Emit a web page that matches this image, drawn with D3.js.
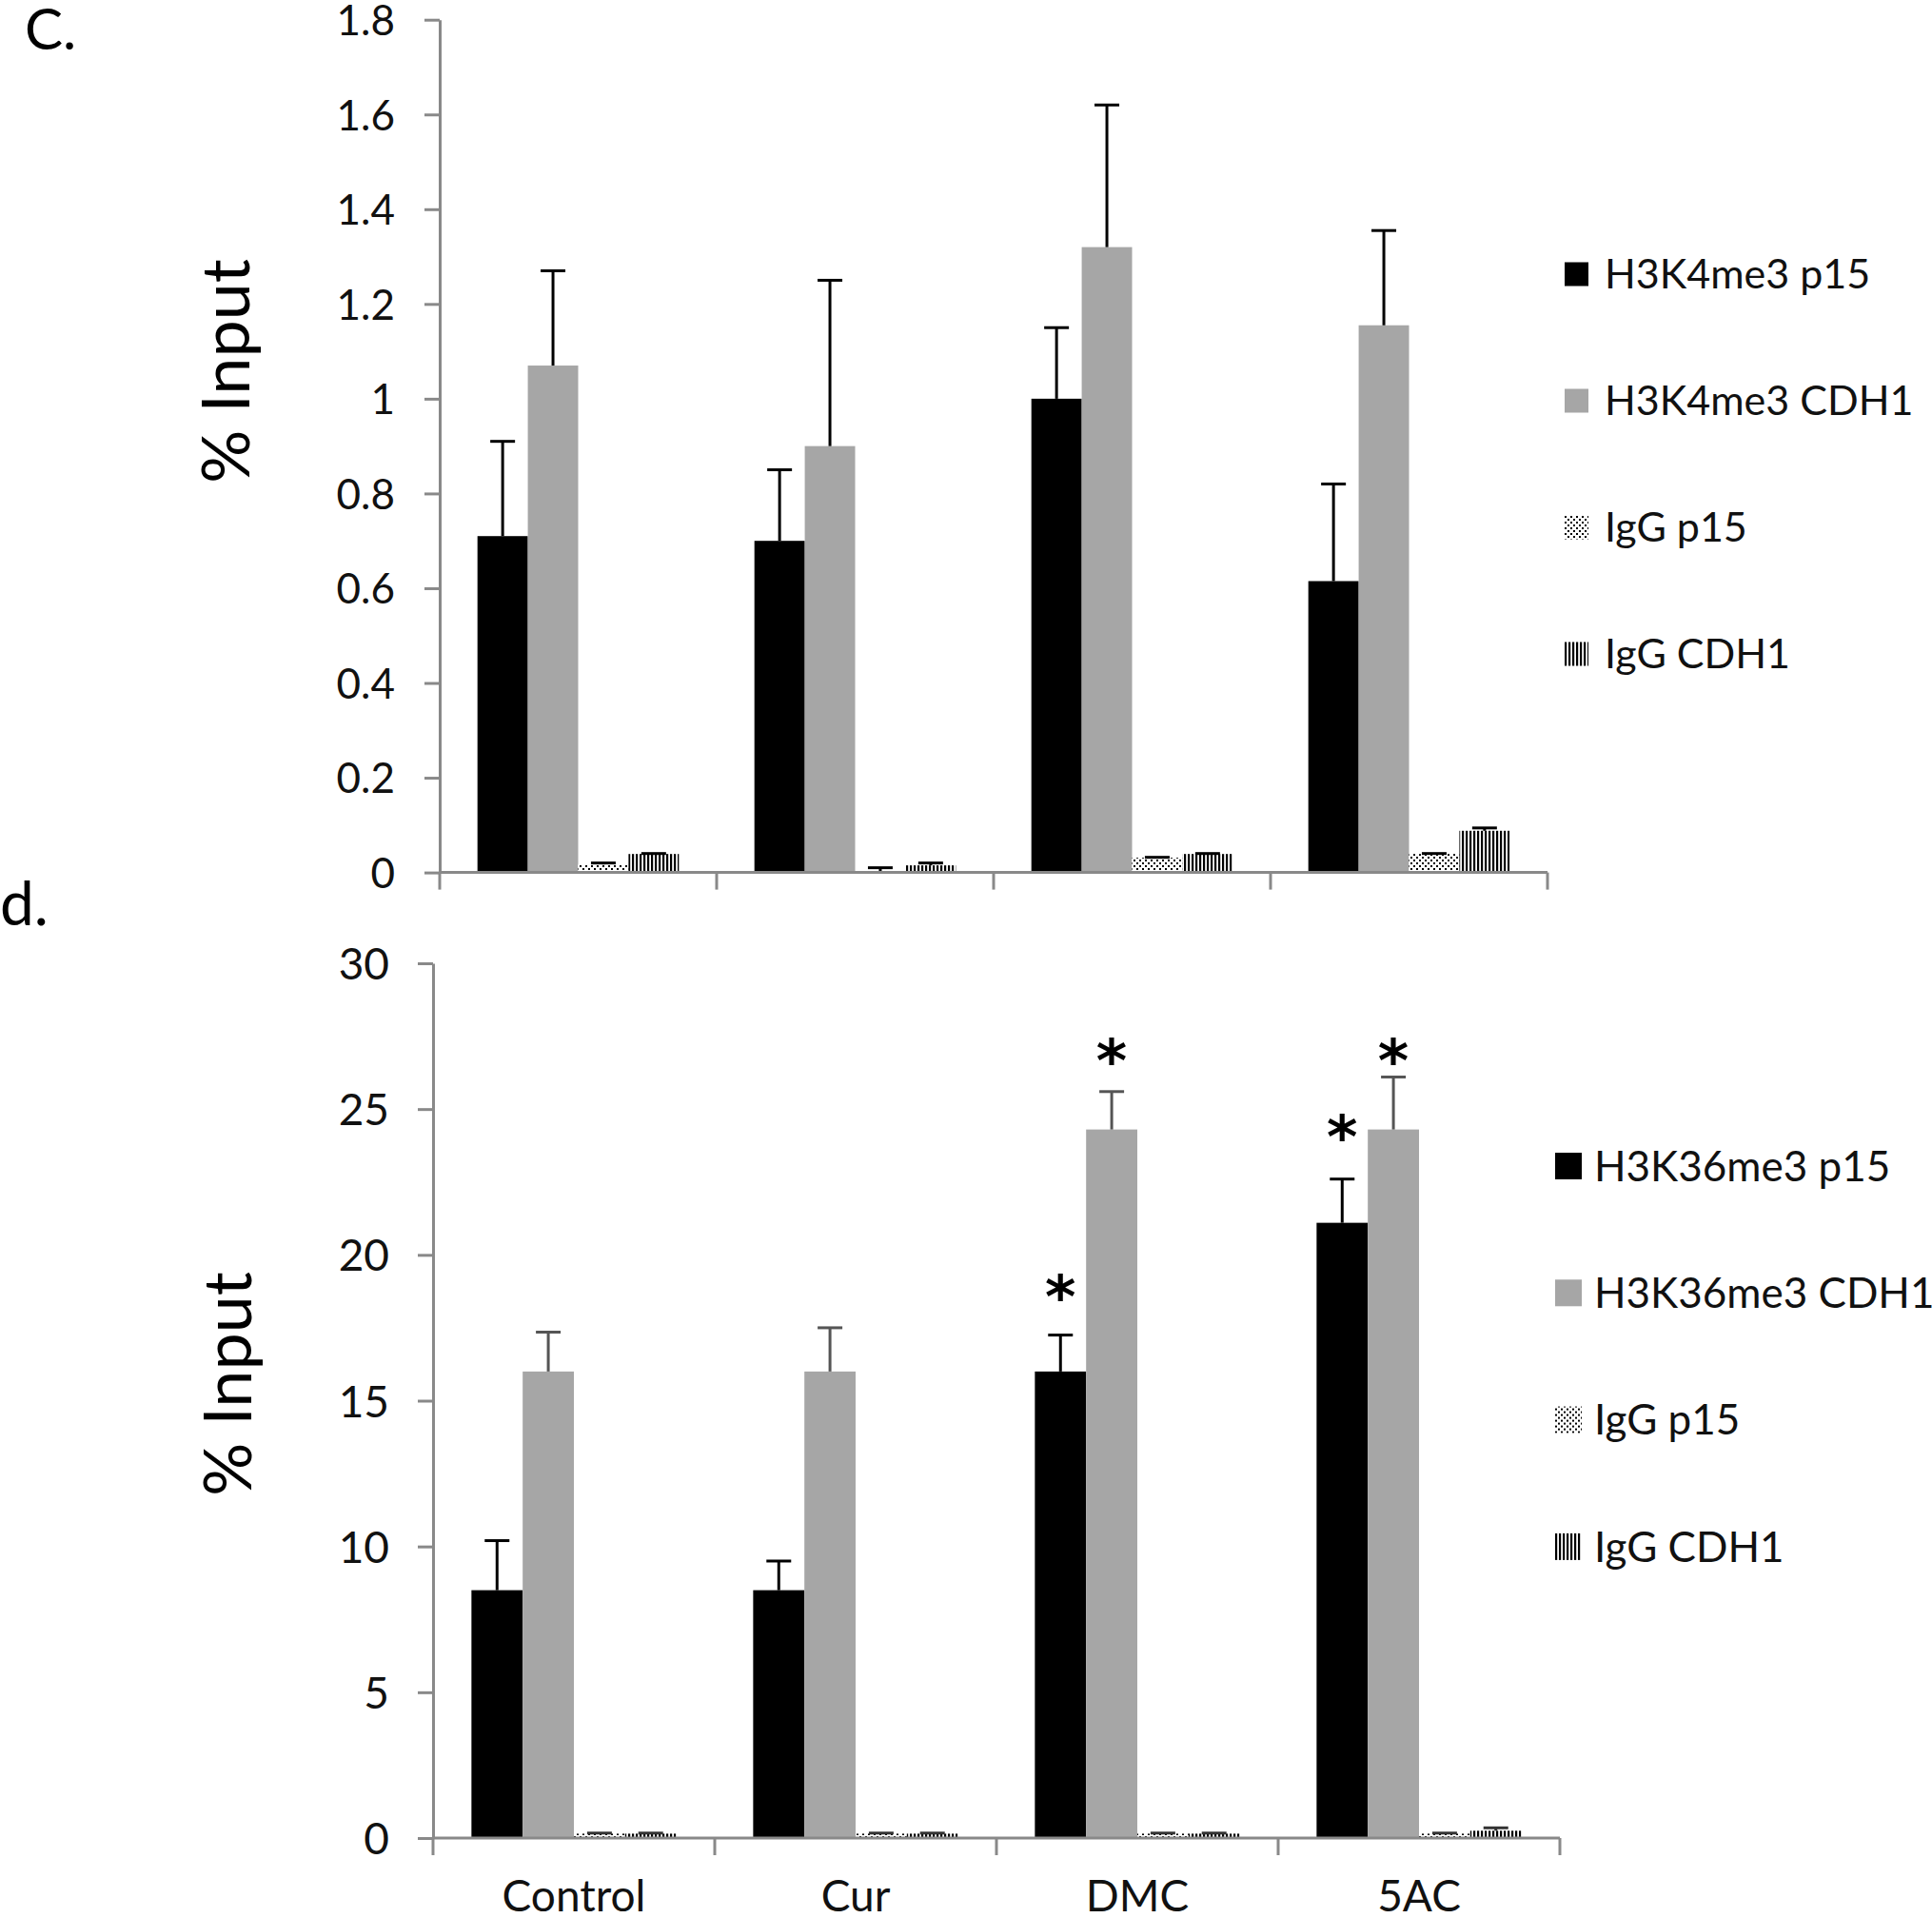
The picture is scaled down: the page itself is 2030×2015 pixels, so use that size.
<!DOCTYPE html>
<html><head><meta charset="utf-8">
<script src="https://cdn.jsdelivr.net/npm/d3@7"></script>
<style>body{margin:0;background:#fff}svg{display:block}</style>
</head><body><svg id="c" width="2030" height="2015"></svg>
<script>
// ---------- DATA ----------
const categories = ["Control", "Cur", "DMC", "5AC"];

// Panel c (H3K4me3)
const seriesC = ["H3K4me3 p15", "H3K4me3 CDH1", "IgG p15", "IgG CDH1"];
const c_h3k4_p15      = [0.71, 0.70, 1.00, 0.615];
const c_h3k4_p15_err  = [0.20, 0.15, 0.15, 0.205];
const c_h3k4_cdh1     = [1.07, 0.90, 1.32, 1.155];
const c_h3k4_cdh1_err = [0.20, 0.35, 0.30, 0.20];
const c_igg_p15       = [0.017, 0.002, 0.031, 0.039];
const c_igg_p15_err   = [0.003, 0.008, 0.001, 0.001];
const c_igg_cdh1      = [0.039, 0.015, 0.039, 0.088];
const c_igg_cdh1_err  = [0.001, 0.005, 0.001, 0.006];
const cTickValues = [0, 0.2, 0.4, 0.6, 0.8, 1, 1.2, 1.4, 1.6, 1.8];
const cTickLabels = ["0", "0.2", "0.4", "0.6", "0.8", "1", "1.2", "1.4", "1.6", "1.8"];

// Panel d (H3K36me3)
const seriesD = ["H3K36me3 p15", "H3K36me3 CDH1", "IgG p15", "IgG CDH1"];
const d_h3k36_p15      = [8.5, 8.5, 16.0, 21.1];
const d_h3k36_p15_err  = [1.7, 1.0, 1.25, 1.5];
const d_h3k36_cdh1     = [16.0, 16.0, 24.3, 24.3];
const d_h3k36_cdh1_err = [1.35, 1.5, 1.3, 1.8];
const d_igg_p15        = [0.15, 0.15, 0.15, 0.15];
const d_igg_p15_err    = [0.02, 0.02, 0.02, 0.02];
const d_igg_cdh1       = [0.15, 0.15, 0.15, 0.25];
const d_igg_cdh1_err   = [0.02, 0.02, 0.02, 0.1];
const dTickValues = [0, 5, 10, 15, 20, 25, 30];
const dTickLabels = ["0", "5", "10", "15", "20", "25", "30"];
// significance markers: category, series index, level (data units)
const dStarCats   = ["DMC", "DMC", "5AC", "5AC"];
const dStarSeries = [0, 1, 0, 1];
const dStarLevels = [19.1, 27.2, 24.6, 27.2];

// ---------- DRAW ----------
const svg = d3.select("#c");
const FONT = "Lato, 'Open Sans', sans-serif";
const defs = svg.append("defs");
const dots = defs.append("pattern").attr("id", "pDots").attr("patternUnits", "userSpaceOnUse")
  .attr("width", 6).attr("height", 6);
dots.append("rect").attr("width", 6).attr("height", 6).attr("fill", "#fff");
dots.append("rect").attr("x", 0).attr("y", 0).attr("width", 2).attr("height", 2).attr("fill", "#000");
dots.append("rect").attr("x", 3).attr("y", 3).attr("width", 2).attr("height", 2).attr("fill", "#000");
const vl = defs.append("pattern").attr("id", "pVert").attr("patternUnits", "userSpaceOnUse")
  .attr("width", 4).attr("height", 4);
vl.append("rect").attr("width", 4).attr("height", 4).attr("fill", "#fff");
vl.append("rect").attr("width", 2.2).attr("height", 4).attr("fill", "#000");

const fills = ["#000000", "#a6a6a6", "url(#pDots)", "url(#pVert)"];

function drawPanel(cfg) {
  const g = svg.append("g");
  const x0 = d3.scaleBand().domain(categories).range([cfg.left, cfg.right]).paddingInner(0).paddingOuter(0);
  const x1 = d3.scaleBand().domain(d3.range(4)).range([0, x0.bandwidth()]).paddingInner(0).paddingOuter(0.75);
  const y = d3.scaleLinear().domain([0, cfg.max]).range([cfg.bottom, cfg.top]);

  const data = [];
  categories.forEach((c, ci) => cfg.vals.forEach((arr, si) => data.push({c, si, v: arr[ci], e: cfg.errs[si][ci]})));

  // bars
  g.selectAll("rect.bar").data(data).join("rect").attr("class", "bar")
    .attr("x", d => x0(d.c) + x1(d.si)).attr("width", x1.bandwidth())
    .attr("y", d => y(d.v)).attr("height", d => y(0) - y(d.v))
    .attr("fill", d => fills[d.si]);

  // error bars (upper only)
  const eb = g.selectAll("g.err").data(data).join("g").attr("class", "err")
    .attr("stroke", d => cfg.errColor[d.si]).attr("stroke-width", 3).attr("fill", "none");
  eb.append("line")
    .attr("x1", d => x0(d.c) + x1(d.si) + x1.bandwidth() / 2)
    .attr("x2", d => x0(d.c) + x1(d.si) + x1.bandwidth() / 2)
    .attr("y1", d => y(d.v)).attr("y2", d => y(d.v + d.e));
  eb.append("line")
    .attr("x1", d => x0(d.c) + x1(d.si) + x1.bandwidth() / 2 - 13)
    .attr("x2", d => x0(d.c) + x1(d.si) + x1.bandwidth() / 2 + 13)
    .attr("y1", d => y(d.v + d.e)).attr("y2", d => y(d.v + d.e));

  // y axis
  const ya = g.append("g").attr("transform", `translate(${cfg.left},0)`)
    .call(d3.axisLeft(y).tickValues(cfg.ticks).tickFormat((d, i) => cfg.tickLabels[i])
      .tickSize(16).tickPadding(cfg.tickPad).tickSizeOuter(0));
  ya.select(".domain").attr("stroke", "#898989").attr("stroke-width", 3);
  ya.selectAll(".tick line").attr("stroke", "#898989").attr("stroke-width", 3);
  ya.selectAll(".tick text").attr("font-family", FONT).attr("font-size", cfg.tickFont)
    .attr("fill", "#111").attr("dy", "0.36em");

  // x axis line + category boundary ticks
  g.append("line").attr("x1", cfg.left).attr("x2", cfg.right).attr("y1", y(0)).attr("y2", y(0))
    .attr("stroke", "#898989").attr("stroke-width", 3);
  const bounds = categories.map(c => x0(c)).concat([x0(categories[categories.length - 1]) + x0.bandwidth()]);
  g.selectAll("line.xt").data(bounds).join("line").attr("class", "xt")
    .attr("x1", d => d).attr("x2", d => d).attr("y1", y(0)).attr("y2", y(0) + 18)
    .attr("stroke", "#898989").attr("stroke-width", 3);

  if (cfg.xLabels) {
    const xa = g.append("g").attr("transform", `translate(0,${y(0)})`)
      .call(d3.axisBottom(x0).tickSize(0).tickPadding(44));
    xa.select(".domain").remove();
    xa.selectAll(".tick text").attr("font-family", FONT).attr("font-size", 46).attr("fill", "#111");
  }

  // y label
  g.append("text").attr("transform", `translate(${cfg.ylabX},${cfg.ylabY}) rotate(-90)`)
    .attr("text-anchor", "middle").attr("font-family", FONT).attr("font-size", 70).attr("fill", "#000")
    .text("% Input");

  // panel letter
  g.append("text").attr("x", cfg.letterX).attr("y", cfg.letterY).attr("font-family", FONT)
    .attr("font-size", cfg.letterSize).attr("fill", "#000").text(cfg.letter);

  // legend
  const lg = g.selectAll("g.leg").data(cfg.series).join("g").attr("class", "leg")
    .attr("transform", (d, i) => `translate(${cfg.legX},${cfg.legY0 + i * cfg.legStep})`);
  lg.append("rect").attr("x", 0).attr("y", -cfg.legSq / 2).attr("width", cfg.legSq).attr("height", cfg.legSq)
    .attr("fill", (d, i) => fills[i]);
  lg.append("text").attr("x", cfg.legTextDx).attr("y", cfg.legFont * 0.36)
    .attr("font-family", FONT).attr("font-size", cfg.legFont).attr("fill", "#111").text(d => d);

  // stars
  if (cfg.stars) {
    cfg.stars.forEach(s => {
      const cx = x0(s.c) + x1(s.si) + x1.bandwidth() / 2;
      g.append("text").attr("x", cx).attr("y", y(s.level)).attr("dy", "0.62em")
        .attr("text-anchor", "middle").attr("font-family", "'DejaVu Sans', sans-serif")
        .attr("font-weight", "bold").attr("font-size", 62).attr("fill", "#000").text("*");
    });
  }
}

drawPanel({
  left: 462, right: 1626, top: 20.7, bottom: 916.6, max: 1.8,
  vals: [c_h3k4_p15, c_h3k4_cdh1, c_igg_p15, c_igg_cdh1],
  errs: [c_h3k4_p15_err, c_h3k4_cdh1_err, c_igg_p15_err, c_igg_cdh1_err],
  errColor: ["#000", "#000", "#000", "#000"],
  ticks: cTickValues, tickLabels: cTickLabels, tickPad: 31, tickFont: 44,
  xLabels: false, ylabX: 262, ylabY: 390,
  letter: "C.", letterX: 26, letterY: 52, letterSize: 60,
  series: seriesC, legX: 1644, legY0: 288, legStep: 133, legSq: 25, legTextDx: 42, legFont: 43
});

drawPanel({
  left: 455, right: 1639, top: 1012, bottom: 1931, max: 30,
  vals: [d_h3k36_p15, d_h3k36_cdh1, d_igg_p15, d_igg_cdh1],
  errs: [d_h3k36_p15_err, d_h3k36_cdh1_err, d_igg_p15_err, d_igg_cdh1_err],
  errColor: ["#000", "#555", "#333", "#333"],
  ticks: dTickValues, tickLabels: dTickLabels, tickPad: 30, tickFont: 46,
  xLabels: true, ylabX: 264, ylabY: 1454,
  letter: "d.", letterX: 0, letterY: 972, letterSize: 64,
  series: seriesD, legX: 1634, legY0: 1225, legStep: 133.3, legSq: 28, legTextDx: 41, legFont: 44,
  stars: dStarCats.map((c, i) => ({c, si: dStarSeries[i], level: dStarLevels[i]}))
});
</script>
</body></html>
